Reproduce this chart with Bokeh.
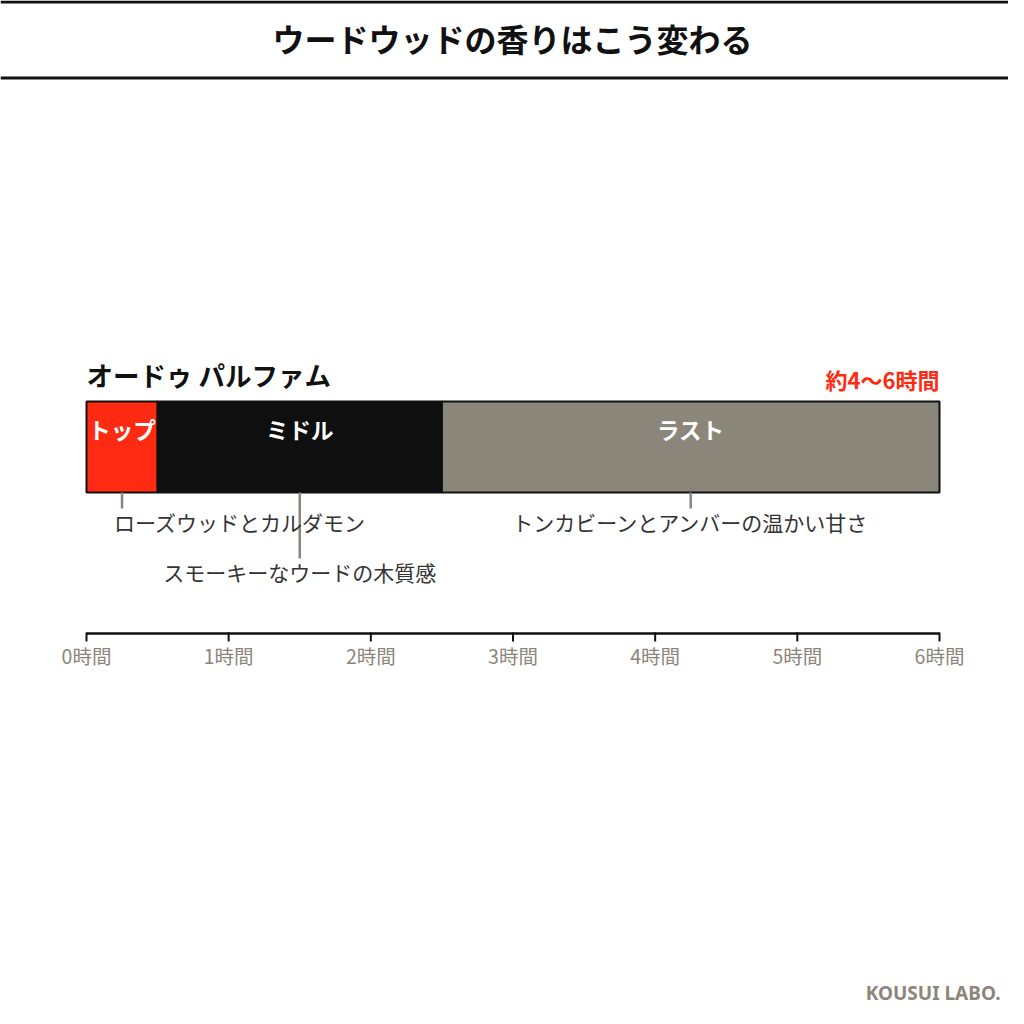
from bokeh.plotting import figure
from bokeh.models import Range1d
from bokeh.core.properties import value
from bokeh.embed import file_html
from bokeh.resources import INLINE

# ---------------- data ----------------
chart_title = "ウードウッドの香りはこう変わる"
series_name = "オードゥ パルファム"
duration_label = "約4〜6時間"
phases = ["トップ", "ミドル", "ラスト"]
phase_start = [0.0, 0.5, 2.5]
phase_end = [0.5, 2.5, 6.0]
notes = ["ローズウッドとカルダモン", "スモーキーなウードの木質感", "トンカビーンとアンバーの温かい甘さ"]
note_at = [0.25, 1.5, 4.25]
tick_hours = [0, 1, 2, 3, 4, 5, 6]
tick_labels = ["0時間", "1時間", "2時間", "3時間", "4時間", "5時間", "6時間"]
credit = "KOUSUI LABO."

# ---------------- styles / layout ----------------
JP = value("Noto Sans CJK JP")
RED = "#ff2a12"
BLACK = "#0f0f0f"
GRAY = "#8b867a"
phase_colors = [RED, BLACK, GRAY]
note_level = [0, 1, 0]
note_align = ["left", "center", "center"]
note_xoff = [-8, 0, 0]

W = H = 1008
PAGE = 0
X0_PX, X6_PX = 86, 939          # screen pixels of 0h and 6h
S = (X6_PX - X0_PX) / 6.0
def px(xp):
    return (xp - X0_PX) / S

BAR_TOP, BAR_BOT = 401, 492
ROW_Y = [521, 571]
AXIS_Y = 633

p = figure(width=W, height=H, output_backend="svg", toolbar_location=None,
           x_range=Range1d(px(PAGE), px(PAGE + W)),
           y_range=Range1d(PAGE + H, PAGE), min_border=0)
p.axis.visible = False
p.grid.visible = False
p.outline_line_color = None
p.background_fill_color = "white"
p.border_fill_color = "white"

# header rules
p.quad(left=[px(PAGE)], right=[px(PAGE + W)], top=[0], bottom=[3],
       fill_color="#111111", line_color=None)
p.quad(left=[px(PAGE)], right=[px(PAGE + W)], top=[76], bottom=[79],
       fill_color="#111111", line_color=None)
p.text(x=[px(512)], y=[37], text=[chart_title], text_font=JP, text_font_style="bold",
       text_font_size="32px", text_color="#111111", text_align="center", text_baseline="middle")

# series name and duration
p.text(x=[0], y=[374], text=[series_name], text_font=JP, text_font_style="bold",
       text_font_size="26.5px", text_color="#111111", text_align="left", text_baseline="middle")
p.text(x=[6], y=[378], text=[duration_label], text_font=JP, text_font_style="bold",
       text_font_size="22px", text_color=RED, text_align="right", text_baseline="middle")

# bar segments
p.quad(left=phase_start, right=phase_end, top=[BAR_TOP] * 3, bottom=[BAR_BOT] * 3,
       fill_color=phase_colors, line_color="#111111", line_width=2)
mids = [(a + b) / 2 for a, b in zip(phase_start, phase_end)]
p.text(x=mids, y=[428] * 3, text=phases, text_font=JP, text_font_style="bold",
       text_font_size="22.5px", text_color="white", text_align="center", text_baseline="middle")

# leader lines and notes
p.segment(x0=note_at, x1=note_at, y0=[BAR_BOT] * 3,
          y1=[ROW_Y[l] - 13 for l in note_level], line_color=GRAY, line_width=2.5)
for x, t, l, a, o in zip(note_at, notes, note_level, note_align, note_xoff):
    p.text(x=[x], y=[ROW_Y[l]], text=[t], text_font=JP, text_font_size="21px",
           text_color="#333333", text_align=a, text_baseline="middle", x_offset=o)

# time axis
p.segment(x0=[tick_hours[0]], x1=[tick_hours[-1]], y0=[AXIS_Y], y1=[AXIS_Y],
          line_color="#111111", line_width=2.5)
p.segment(x0=tick_hours, x1=tick_hours, y0=[AXIS_Y - 1] * len(tick_hours),
          y1=[AXIS_Y + 8] * len(tick_hours), line_color="#111111", line_width=2)
p.text(x=tick_hours, y=[AXIS_Y + 22] * len(tick_hours), text=tick_labels, text_font=JP,
       text_font_size="19.5px", text_color=GRAY, text_align="center", text_baseline="middle")

# credit
p.text(x=[px(1000)], y=[992], text=[credit], text_font=value("Noto Sans"),
       text_font_style="bold", text_font_size="19px", text_color=GRAY,
       text_align="right", text_baseline="middle")

open("out.html", "w").write(file_html(p, INLINE))
